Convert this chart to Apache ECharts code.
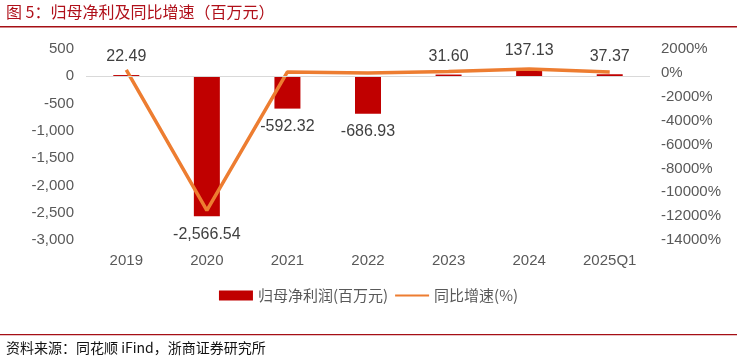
<!DOCTYPE html>
<html><head><meta charset="utf-8">
<script src="https://cdn.jsdelivr.net/npm/echarts@6/dist/echarts.min.js"></script>
<style>html,body{margin:0;padding:0;background:#fff}#c{width:737px;height:362px}</style>
</head><body><div id="c"></div>
<script>
const categories = ['2019','2020','2021','2022','2023','2024','2025Q1'];
const profit = [22.49, -2566.54, -592.32, -686.93, 31.60, 137.13, 37.37];
const growth = [250, -11512, 77, -16, 105, 334, 80];
const leftTicks = {min: -3000, max: 500, interval: 500};
const rightTicks = {min: -14000, max: 2000, interval: 2000};

const chart = echarts.init(document.getElementById('c'));
const txt = '#595959';
chart.setOption({
  animation: false,
  textStyle: {fontFamily: 'Liberation Sans, Noto Sans CJK SC, sans-serif'},
  graphic: [
    {type: 'text', left: 6, top: 4, style: {text: '图 5：归母净利及同比增速（百万元）', fill: '#b0101a', font: '16px "Noto Sans CJK SC"'}},
    {type: 'rect', shape: {x: 0, y: 26, width: 737, height: 1.5}, style: {fill: '#a50f15'}},
    {type: 'rect', shape: {x: 0, y: 334, width: 737, height: 1.2}, style: {fill: '#a50f15'}},
    {type: 'text', left: 6, top: 341, style: {text: '资料来源：同花顺 iFind，浙商证券研究所', fill: '#111', font: '14px "Noto Sans CJK SC"'}}
  ],
  grid: {left: 86, right: 87, top: 49, height: 191},
  legend: {
    bottom: 54, left: 'center', itemGap: 6,
    textStyle: {color: txt, fontSize: 15, fontFamily: 'Noto Sans CJK SC'},
    data: [
      {name: '归母净利润(百万元)', icon: 'rect', itemStyle: {color: '#c00000'}},
      {name: '同比增速(%)', itemStyle: {opacity: 0}}
    ],
    itemWidth: 34, itemHeight: 10
  },
  xAxis: {
    type: 'category', data: categories,
    axisLine: {show: false}, axisTick: {show: false},
    axisLabel: {color: txt, fontSize: 15, margin: 13}
  },
  yAxis: [
    {type: 'value', min: leftTicks.min, max: leftTicks.max, interval: leftTicks.interval,
     splitLine: {show: false}, axisLine: {show: false}, axisTick: {show: false},
     axisLabel: {color: txt, fontSize: 15, margin: 12,
       formatter: v => v.toLocaleString('en-US')}},
    {type: 'value', min: rightTicks.min, max: rightTicks.max, interval: rightTicks.interval,
     splitLine: {show: false}, axisLine: {show: false}, axisTick: {show: false},
     axisLabel: {color: txt, fontSize: 15, margin: 11, formatter: v => v + '%'}}
  ],
  series: [
    {name: '归母净利润(百万元)', type: 'bar', yAxisIndex: 0, barWidth: 26,
     data: profit.map(v => ({value: v, label: {position: v < 0 ? 'bottom' : 'top'}})),
     itemStyle: {color: '#c00000'},
     label: {show: true, color: '#404040', fontSize: 16, distance: 10,
       formatter: p => p.value.toLocaleString('en-US', {minimumFractionDigits: 2, maximumFractionDigits: 2})},
     markLine: {silent: true, symbol: 'none', label: {show: false},
       lineStyle: {color: '#d9d9d9', width: 1, type: 'solid'}, data: [{yAxis: 0}]}
    },
    {name: '同比增速(%)', type: 'line', yAxisIndex: 1, data: growth, symbol: 'none',
     lineStyle: {color: '#ed7d31', width: 3.5}, itemStyle: {color: '#ed7d31'}}
  ]
});
</script></body></html>
